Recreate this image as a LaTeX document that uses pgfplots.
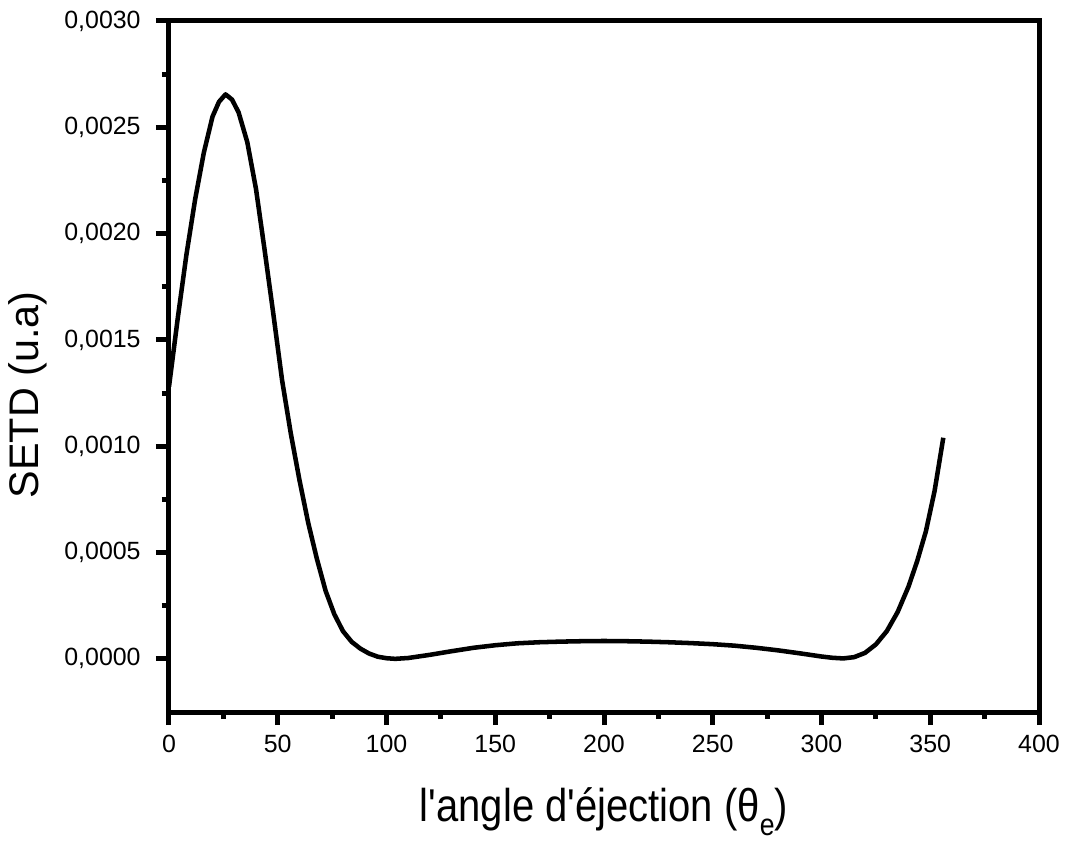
\documentclass[border=0pt]{standalone}
\usepackage{fontspec}
\setmainfont{Liberation Sans}
\usepackage{pgfplots}
\pgfplotsset{compat=1.18}
\pgfplotstableread{
x y
0 0.00128
4 0.00160
8 0.00190
12 0.00216
16 0.00238
20 0.00255
23 0.00262
26 0.002655
29 0.00263
32 0.00257
36 0.00243
40 0.00221
44 0.00192
48 0.00162
52 0.00131
56 0.00106
60 0.00084
64 0.00064
68 0.00047
72 0.00032
76 0.00021
80 0.00013
84 0.000080
88 0.000048
92 0.000025
96 0.000010
100 0.000003
104 0.000000
110 0.000004
120 0.000019
130 0.000036
140 0.000052
150 0.000064
160 0.000073
170 0.000078
180 0.000081
190 0.000083
200 0.000084
210 0.000083
220 0.000081
230 0.000078
240 0.000074
250 0.000069
260 0.000062
270 0.000052
280 0.000040
290 0.000026
300 0.000011
305 0.000005
310 0.000002
315 0.000008
320 0.000028
325 0.000068
330 0.00013
335 0.00022
340 0.00034
344 0.00046
348 0.00060
352 0.00079
356 0.00104
}\datatable
\begin{document}
\begin{tikzpicture}
\path (-126.75pt,-96pt) rectangle (675pt,534pt);
\begin{axis}[
  scale only axis,
  width=652.5pt, height=518.25pt,
  xmin=0, xmax=400, ymin=-0.00025, ymax=0.003,
  xtick={0,50,...,400},
  ytick={0,0.0005,0.001,0.0015,0.002,0.0025,0.003},
  minor x tick num=1, minor y tick num=1,
  xtick pos=bottom, ytick pos=left,
  tick align=outside,
  major tick length=9.75pt, minor tick length=5.25pt,
  every tick/.style={line width=3.75pt, black},
  axis line style={line width=3.75pt, line cap=rect},
  scaled y ticks=false,
  ticklabel style={font=\fontsize{18.7}{22}\selectfont},
  yticklabel style={xshift=-8pt, /pgf/number format/.cd, fixed, fixed zerofill, precision=4, use comma, assume math mode=true},
  xticklabel style={yshift=-4pt, /pgf/number format/assume math mode=true},
  xlabel={l\textquotesingle angle d\textquotesingle éjection (θ\raisebox{-9pt}{\fontsize{20}{22}\selectfont e})},
  ylabel={SETD (u.a)},
  xlabel style={font=\fontsize{30}{36}\selectfont, at={(axis description cs:0.5,-0.159)}, anchor=base, transform shape, yscale=1.15},
  ylabel style={font=\fontsize{31}{36}\selectfont, at={(axis description cs:-0.162,0.459)}, anchor=center},
]
\addplot[black, line width=3.4pt, line join=round] table[x=x,y=y] {\datatable};
\end{axis}
\end{tikzpicture}
\end{document}
